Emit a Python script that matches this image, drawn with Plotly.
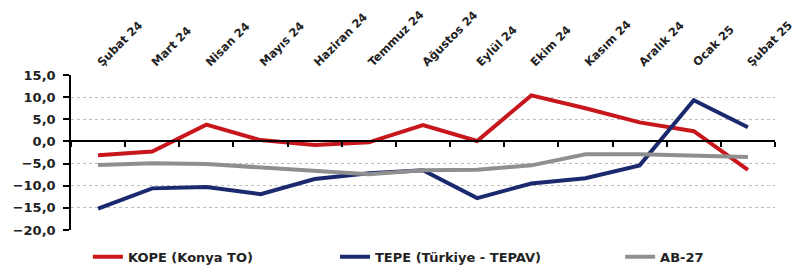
import plotly.graph_objects as go

months = ["Şubat 24", "Mart 24", "Nisan 24", "Mayıs 24", "Haziran 24", "Temmuz 24",
          "Ağustos 24", "Eylül 24", "Ekim 24", "Kasım 24", "Aralık 24", "Ocak 25", "Şubat 25"]
kope = [-3.1, -2.3, 3.8, 0.3, -0.8, -0.2, 3.7, 0.1, 10.4, 7.5, 4.3, 2.3, -6.4]
tepe = [-15.2, -10.6, -10.3, -11.9, -8.5, -7.2, -6.5, -12.8, -9.5, -8.3, -5.4, 9.3, 3.2]
ab27 = [-5.3, -4.9, -5.1, -5.8, -6.5, -7.4, -6.5, -6.4, -5.4, -2.9, -2.9, -3.3, -3.5]

names = ["KOPE (Konya TO)", "TEPE (Türkiye - TEPAV)", "AB-27"]
colors = ["#C8161D", "#1B2A6E", "#8F8F8F"]
series = [kope, tepe, ab27]
legends = ["legend", "legend2", "legend3"]

FONT = "DejaVu Sans, Liberation Sans, Arial, sans-serif"
y_min, y_max = -20, 15
x_range = [-0.5, len(months) - 0.5]

fig = go.Figure()
for name, col, vals, lg in zip(names, colors, series, legends):
    fig.add_trace(go.Scatter(x=months, y=vals, mode="lines", name=name,
                             line=dict(color=col, width=4), legend=lg))

# invisible trace on xaxis2 to build the zero-line axis with boundary ticks
fig.add_trace(go.Scatter(x=months, y=[None] * len(months), xaxis="x2",
                         showlegend=False, hoverinfo="skip"))

legend_common = dict(orientation="h",
                     font=dict(family=FONT, size=13, color="#222", weight="bold"),
                     bgcolor="rgba(0,0,0,0)", xanchor="left", yanchor="middle",
                     y=-0.173, itemwidth=30)

fig.update_layout(
    width=800, height=276,
    margin=dict(l=63, r=33, t=67, b=47),
    paper_bgcolor="white", plot_bgcolor="white",
    font=dict(family=FONT, size=12, color="#222"),
    separators=",.",
    showlegend=True,
    legend=dict(x=0.024, **legend_common),
    legend2=dict(x=0.375, **legend_common),
    legend3=dict(x=0.78, **legend_common),
    xaxis=dict(type="category", categoryorder="array", categoryarray=months,
               range=x_range, automargin=False,
               side="top", tickangle=-45, showgrid=False, showline=False,
               ticks="", zeroline=False, ticklabelstandoff=3,
               tickfont=dict(family=FONT, size=11.5, color="#222", weight="bold")),
    xaxis2=dict(type="category", categoryorder="array", categoryarray=months,
                range=x_range, automargin=False,
                overlaying="x", anchor="free",
                position=(0 - y_min) / (y_max - y_min),
                side="bottom", showticklabels=False, showgrid=False,
                showline=True, linecolor="black", linewidth=1.5,
                ticks="outside", ticklen=5, tickcolor="black", tickwidth=1.5,
                tickson="boundaries", zeroline=False),
    yaxis=dict(range=[y_min, y_max], dtick=5, tickformat=".1f", automargin=False,
               showgrid=True, gridcolor="#BDBDBD", griddash="dot", gridwidth=1,
               zeroline=False, showline=True, linecolor="black", linewidth=1.5,
               ticks="outside", ticklen=6, tickcolor="black", tickwidth=1.5,
               ticklabelstandoff=5,
               tickfont=dict(family=FONT, size=13, color="#222", weight="bold")),
)

fig.write_html("out.html")
